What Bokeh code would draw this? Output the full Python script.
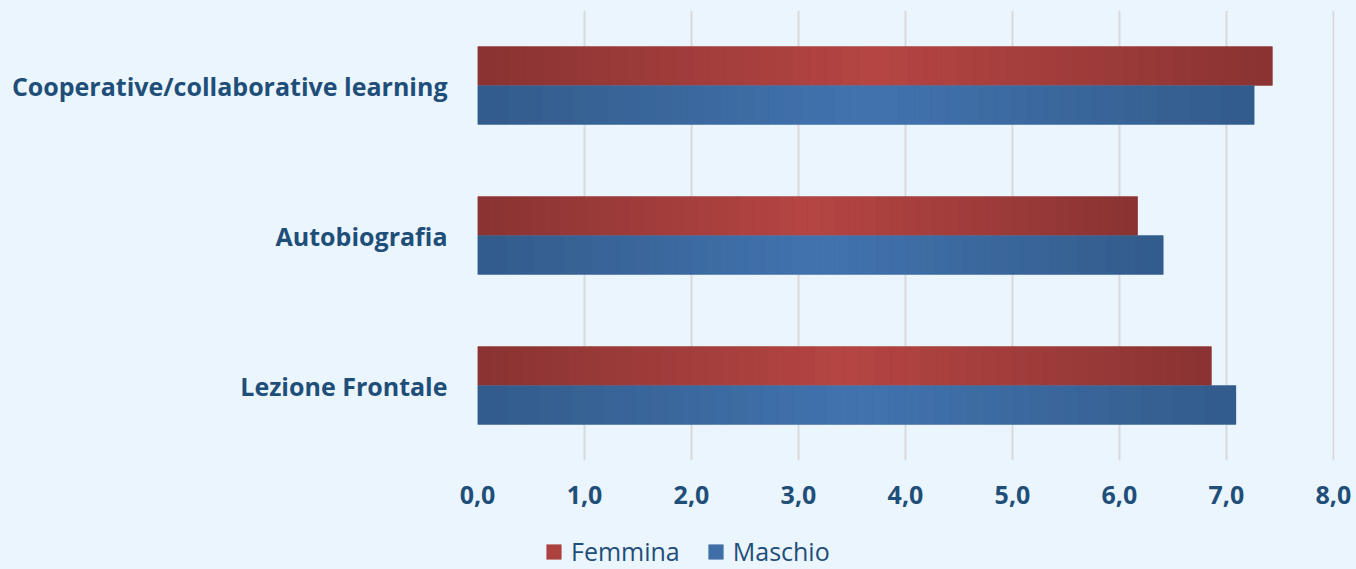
import numpy as np
from bokeh.plotting import figure
from bokeh.layouts import column
from bokeh.models import (ColumnDataSource, FactorRange, Range1d, FixedTicker,
                          Legend, LegendItem)
from bokeh.transform import dodge
from bokeh.embed import file_html
from bokeh.resources import INLINE

# ---- data ----
categories = ["Lezione Frontale", "Autobiografia", "Cooperative/collaborative learning"]
femmina = [6.86, 6.17, 7.43]
maschio = [7.09, 6.41, 7.26]
series_names = ["Femmina", "Maschio"]
x_ticks = [0, 1, 2, 3, 4, 5, 6, 7, 8]
x_tick_labels = ["0,0", "1,0", "2,0", "3,0", "4,0", "5,0", "6,0", "7,0", "8,0"]

# ---- style ----
BG = "#EAF5FD"
TXT = "#1F4E79"
RED_DARK, RED_LIGHT = (0x89, 0x33, 0x32), (0xB5, 0x45, 0x43)
BLUE_DARK, BLUE_LIGHT = (0x32, 0x5B, 0x8A), (0x42, 0x73, 0xAF)
BAR_H = 0.26
NSEG = 48
W = 1352


def mix(c1, c2, t):
    return "#%02x%02x%02x" % tuple(int(round(a + (b - a) * t)) for a, b in zip(c1, c2))


def gradient_source(values, dark, light):
    cat, left, right, color = [], [], [], []
    for c, v in zip(categories, values):
        for i in range(NSEG):
            t = abs((i + 0.5) / NSEG - 0.5) * 2.0  # 0 centre, 1 ends
            cat.append(c)
            left.append(v * i / NSEG)
            right.append(v * (i + 1) / NSEG)
            color.append(mix(light, dark, t))
    return ColumnDataSource(dict(cat=cat, left=left, right=right, color=color))


p = figure(width=W, height=520, output_backend="svg", toolbar_location=None,
           y_range=FactorRange(factors=categories, range_padding=0),
           x_range=Range1d(0, 8.01),
           min_border_left=477, min_border_right=18, min_border_top=10,
           min_border_bottom=60)
p.background_fill_color = BG
p.border_fill_color = BG
p.outline_line_color = None

base = ColumnDataSource(dict(cat=categories, f=femmina, m=maschio))
p.hbar(y=dodge("cat", BAR_H / 2, range=p.y_range), left=0, right="f",
       height=BAR_H, fill_color=mix(RED_DARK, RED_LIGHT, 0.5), line_color=None, source=base)
p.hbar(y=dodge("cat", -BAR_H / 2, range=p.y_range), left=0, right="m",
       height=BAR_H, fill_color=mix(BLUE_DARK, BLUE_LIGHT, 0.5), line_color=None, source=base)

src_f = gradient_source(femmina, RED_DARK, RED_LIGHT)
src_m = gradient_source(maschio, BLUE_DARK, BLUE_LIGHT)
p.hbar(y=dodge("cat", BAR_H / 2, range=p.y_range), left="left", right="right",
       height=BAR_H, fill_color="color", line_color=None, source=src_f)
p.hbar(y=dodge("cat", -BAR_H / 2, range=p.y_range), left="left", right="right",
       height=BAR_H, fill_color="color", line_color=None, source=src_m)

# axes
p.xaxis.ticker = FixedTicker(ticks=x_ticks)
p.xaxis.major_label_overrides = {t: l for t, l in zip(x_ticks, x_tick_labels)}
p.xaxis.axis_line_color = None
p.xaxis.major_tick_line_color = None
p.xaxis.minor_tick_line_color = None
p.xaxis.major_label_standoff = 19
p.xaxis.major_label_text_font = "Open Sans"
p.xaxis.major_label_text_font_style = "bold"
p.xaxis.major_label_text_font_size = "25px"
p.xaxis.major_label_text_color = TXT

p.yaxis.axis_line_color = None
p.yaxis.major_tick_line_color = None
p.yaxis.minor_tick_line_color = None
p.yaxis.major_label_standoff = 24
p.yaxis.major_label_text_font = "Open Sans"
p.yaxis.major_label_text_font_style = "bold"
p.yaxis.major_label_text_font_size = "25px"
p.yaxis.major_label_text_color = TXT

p.xgrid.grid_line_color = "#D9D9D9"
p.xgrid.grid_line_width = 2
p.ygrid.grid_line_color = None

# ---- legend strip ----
lg = figure(width=W, height=48, output_backend="svg", toolbar_location=None,
            x_range=Range1d(0, 1), y_range=Range1d(0, 1),
            x_axis_location=None, y_axis_location=None,
            min_border_left=0, min_border_right=0, min_border_top=0,
            min_border_bottom=0)
lg.background_fill_color = BG
lg.border_fill_color = BG
lg.outline_line_color = None
lg.xgrid.visible = False
lg.ygrid.visible = False
lf = lg.hbar(y=[0], left=[0], right=[0], height=0.0,
             fill_color=mix(RED_DARK, RED_LIGHT, 0.8), line_color=None)
lm = lg.hbar(y=[0], left=[0], right=[0], height=0.0,
             fill_color=mix(BLUE_DARK, BLUE_LIGHT, 0.8), line_color=None)
legend = Legend(items=[LegendItem(label=series_names[0], renderers=[lf]),
                       LegendItem(label=series_names[1], renderers=[lm])],
                orientation="horizontal", location=(67, 0),
                glyph_width=19, glyph_height=19, spacing=26, label_standoff=8,
                label_text_font="Open Sans", label_text_font_size="25px",
                label_text_color=TXT, background_fill_alpha=0,
                border_line_color=None, padding=0, margin=0)
lg.add_layout(legend, "center")

layout = column(p, lg, spacing=0)
html = file_html(layout, INLINE)
html = html.replace("</head>", "<style>html,body{background:%s;}</style></head>" % BG, 1)
open("out.html", "w").write(html)
